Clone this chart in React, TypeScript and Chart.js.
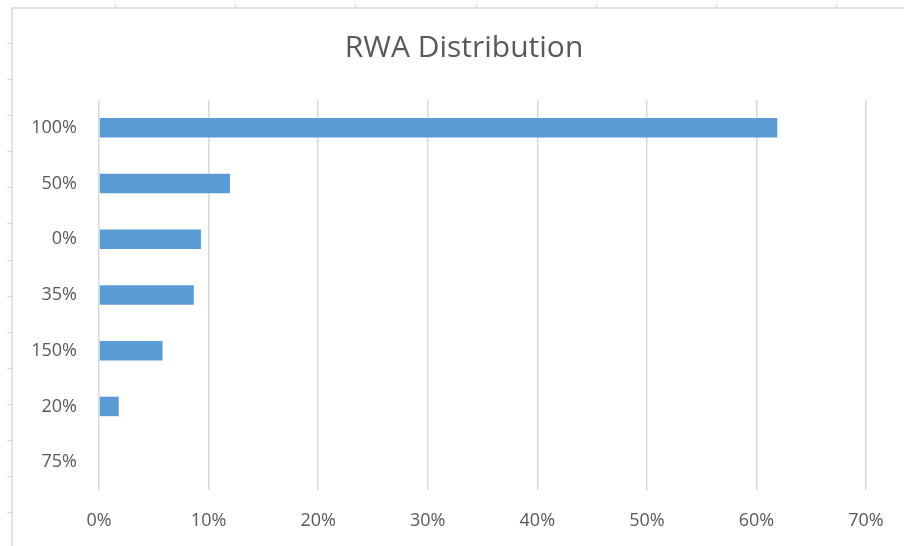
import React, { useEffect, useRef } from "react";
import { Chart, registerables } from "chart.js";

Chart.register(...registerables);

const categories = ["100%", "50%", "0%", "35%", "150%", "20%", "75%"];
const shares = [61.9, 11.95, 9.3, 8.65, 5.8, 1.8, 0];
const xTicks = [0, 10, 20, 30, 40, 50, 60, 70];

const frame = {
  id: "frame",
  afterLayout(chart: any) {
    if (chart.titleBlock) {
      chart.titleBlock.left = 62;
      chart.titleBlock.right = 866;
      chart.titleBlock.width = 866 - 62;
    }
  },
  beforeDraw(chart: any) {
    const ctx = chart.ctx;
    ctx.save();
    ctx.fillStyle = "#ffffff";
    ctx.fillRect(0, 0, chart.width, chart.height);
    ctx.strokeStyle = "#d9d9d9";
    ctx.lineWidth = 1.5;
    ctx.beginPath();
    ctx.moveTo(12, chart.height);
    ctx.lineTo(12, 8);
    ctx.lineTo(chart.width, 8);
    ctx.stroke();
    ctx.lineWidth = 1;
    ctx.beginPath();
    for (let y = 43; y < chart.height; y += 36.1) {
      ctx.moveTo(7, Math.round(y) + 0.5);
      ctx.lineTo(12, Math.round(y) + 0.5);
    }
    for (let x = 115; x < chart.width; x += 120.2) {
      ctx.moveTo(Math.round(x) + 0.5, 4);
      ctx.lineTo(Math.round(x) + 0.5, 8);
    }
    ctx.stroke();
    ctx.restore();
  },
};

const font = "'Open Sans', sans-serif";

export default function App() {
  const ref = useRef<HTMLCanvasElement>(null);
  useEffect(() => {
    document.body.style.margin = "0";
    const chart = new Chart(ref.current!, {
      type: "bar",
      data: {
        labels: categories,
        datasets: [
          {
            data: shares,
            backgroundColor: "#5b9bd5",
            borderColor: "#5b9bd5",
            borderWidth: 0,
            categoryPercentage: 0.35,
            barPercentage: 1,
          },
        ],
      },
      options: {
        indexAxis: "y",
        animation: false,
        responsive: false,
        layout: { padding: { left: 0, right: 38, top: 30, bottom: 0 } },
        plugins: {
          legend: { display: false },
          tooltip: { enabled: false },
          title: {
            display: true,
            text: "RWA Distribution",
            color: "#595959",
            font: { family: font, size: 30, weight: "normal", lineHeight: 1.2 },
            padding: { top: 0, bottom: 34 },
          },
        },
        scales: {
          x: {
            min: 0,
            max: 70,
            afterBuildTicks: (axis: any) => {
              axis.ticks = xTicks.map((v) => ({ value: v }));
            },
            afterFit: (axis: any) => {
              axis.height = 56;
            },
            grid: { color: "#d9d9d9", lineWidth: 1.5, drawTicks: false },
            border: { display: false },
            ticks: {
              color: "#595959",
              font: { family: font, size: 18 },
              padding: 20,
              callback: (v: any) => v + "%",
            },
          },
          y: {
            afterFit: (axis: any) => {
              axis.width = 99;
            },
            grid: { display: false, drawTicks: false },
            border: { display: false },
            ticks: {
              color: "#595959",
              font: { family: font, size: 18 },
              padding: 22,
            },
          },
        },
      },
      plugins: [frame],
    });
    return () => chart.destroy();
  }, []);
  return <canvas ref={ref} width={904} height={546} style={{ display: "block" }} />;
}
